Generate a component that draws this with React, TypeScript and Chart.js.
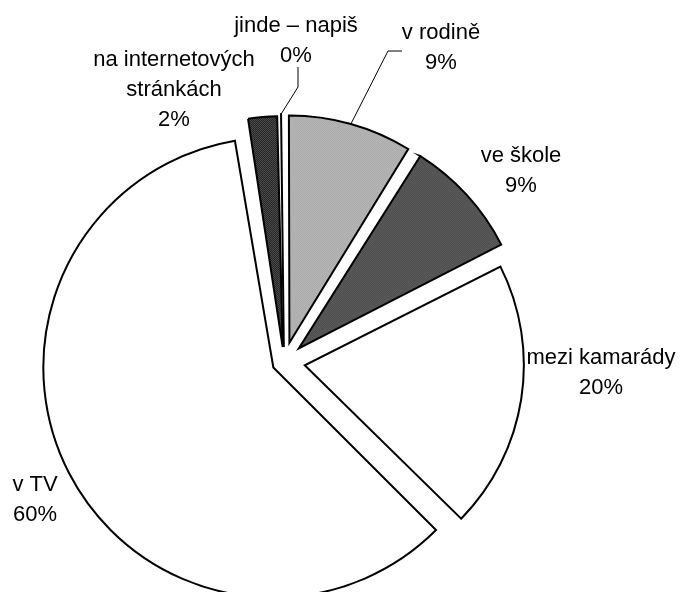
import React, { useEffect, useRef } from 'react';
import { Chart, registerables } from 'chart.js';

Chart.register(...registerables);

// ---- data ----
const categories = [
  'v rodině',
  've škole',
  'mezi kamarády',
  'v TV',
  'na internetových\nstránkách',
  'jinde – napiš',
];
const shares = [9.0, 8.7, 19.8, 60.1, 2.3, 0.1];

// ---- styles / layout (not data) ----
const sliceFills: (string | [string, string])[] = [
  ['#e2e2e2', '#808080'],
  ['#262626', '#848484'],
  '#ffffff',
  '#ffffff',
  ['#121212', '#606060'],
  '#ffffff',
];
const explode = [80, 80, 84, 48, 60, 60];
// label anchor: centre x and first baseline, relative to pie centre
const labelAnchors = [
  { dx: 157, dy: -323 },
  { dx: 237, dy: -200 },
  { dx: 317, dy: 2 },
  { dx: -249, dy: 129 },
  { dx: -110, dy: -296 },
  { dx: 12, dy: -330 },
];
// leader lines (points relative to label anchor, ending on slice edge)
const leaders: Record<number, { x: number; y: number }[]> = {
  0: [
    { x: -39, y: 12 },
    { x: -53, y: 12 },
  ],
  5: [
    { x: 2, y: 35 },
    { x: 2, y: 55 },
  ],
};
const LINE_H = 30;
const FONT = '22px "Liberation Sans", Arial, Helvetica, sans-serif';

const labelPlugin = {
  id: 'sliceLabels',
  afterDatasetsDraw(chart: any) {
    const ctx: CanvasRenderingContext2D = chart.ctx;
    const meta = chart.getDatasetMeta(0);
    const arcs = meta.data as any[];
    const total = shares.reduce((a, b) => a + b, 0);
    ctx.save();
    ctx.font = FONT;
    ctx.fillStyle = '#000';
    ctx.textAlign = 'center';
    ctx.textBaseline = 'alphabetic';
    arcs.forEach((arc, i) => {
      const p = arc.getProps(['x', 'y', 'startAngle', 'endAngle', 'outerRadius', 'circumference'], true);
      const off = (arc.options.offset || 0) / 4;
      const mid = (p.startAngle + p.endAngle) / 2;
      const fix = 1 - Math.sin(Math.min(Math.PI, p.circumference || 0));
      const r = p.outerRadius + off * fix;
      const ex = p.x + Math.cos(mid) * (off + r);
      const ey = p.y + Math.sin(mid) * (off + r);
      const a = labelAnchors[i];
      const ax = p.x + a.dx;
      const ay = p.y + a.dy;
      const lines = categories[i].split('\n');
      lines.push(Math.round((shares[i] / total) * 100) + '%');
      lines.forEach((t, k) => ctx.fillText(t, ax, ay + k * LINE_H));
      const pts = leaders[i];
      if (pts) {
        ctx.beginPath();
        ctx.lineWidth = 1;
        ctx.strokeStyle = '#000';
        ctx.moveTo(ax + pts[0].x, ay + pts[0].y);
        for (let k = 1; k < pts.length; k++) ctx.lineTo(ax + pts[k].x, ay + pts[k].y);
        ctx.lineTo(ex, ey);
        ctx.stroke();
      }
    });
    ctx.restore();
  },
};

function makeFill(ctx: CanvasRenderingContext2D, f: string | [string, string]) {
  if (typeof f === 'string') return f;
  const c = document.createElement('canvas');
  c.width = 2;
  c.height = 2;
  const g = c.getContext('2d')!;
  g.fillStyle = f[0];
  g.fillRect(0, 0, 2, 2);
  g.fillStyle = f[1];
  g.fillRect(0, 0, 1, 1);
  g.fillRect(1, 1, 1, 1);
  return ctx.createPattern(c, 'repeat') as any;
}

export default function App() {
  const ref = useRef<HTMLCanvasElement>(null);
  useEffect(() => {
    const canvas = ref.current!;
    const ctx = canvas.getContext('2d')!;
    const chart = new Chart(canvas, {
      type: 'pie',
      data: {
        labels: categories.map((c) => c.replace('\n', ' ')),
        datasets: [
          {
            data: shares,
            backgroundColor: sliceFills.map((f) => makeFill(ctx, f)),
            borderColor: '#000',
            borderWidth: 2,
            borderJoinStyle: 'miter',
            offset: explode,
            clip: false,
          } as any,
        ],
      },
      options: {
        responsive: false,
        animation: false,
        rotation: -0.5,
        radius: 218,
        events: [],
        layout: { padding: { left: 0, right: 120, top: 132, bottom: 0 } },
        plugins: { legend: { display: false }, tooltip: { enabled: false } },
      } as any,
      plugins: [labelPlugin],
    });
    return () => chart.destroy();
  }, []);
  return (
    <div style={{ position: 'absolute', left: 0, top: 0, width: 688, height: 592, background: '#fff' }}>
      <canvas ref={ref} width={688} height={592} style={{ display: 'block' }} />
    </div>
  );
}
